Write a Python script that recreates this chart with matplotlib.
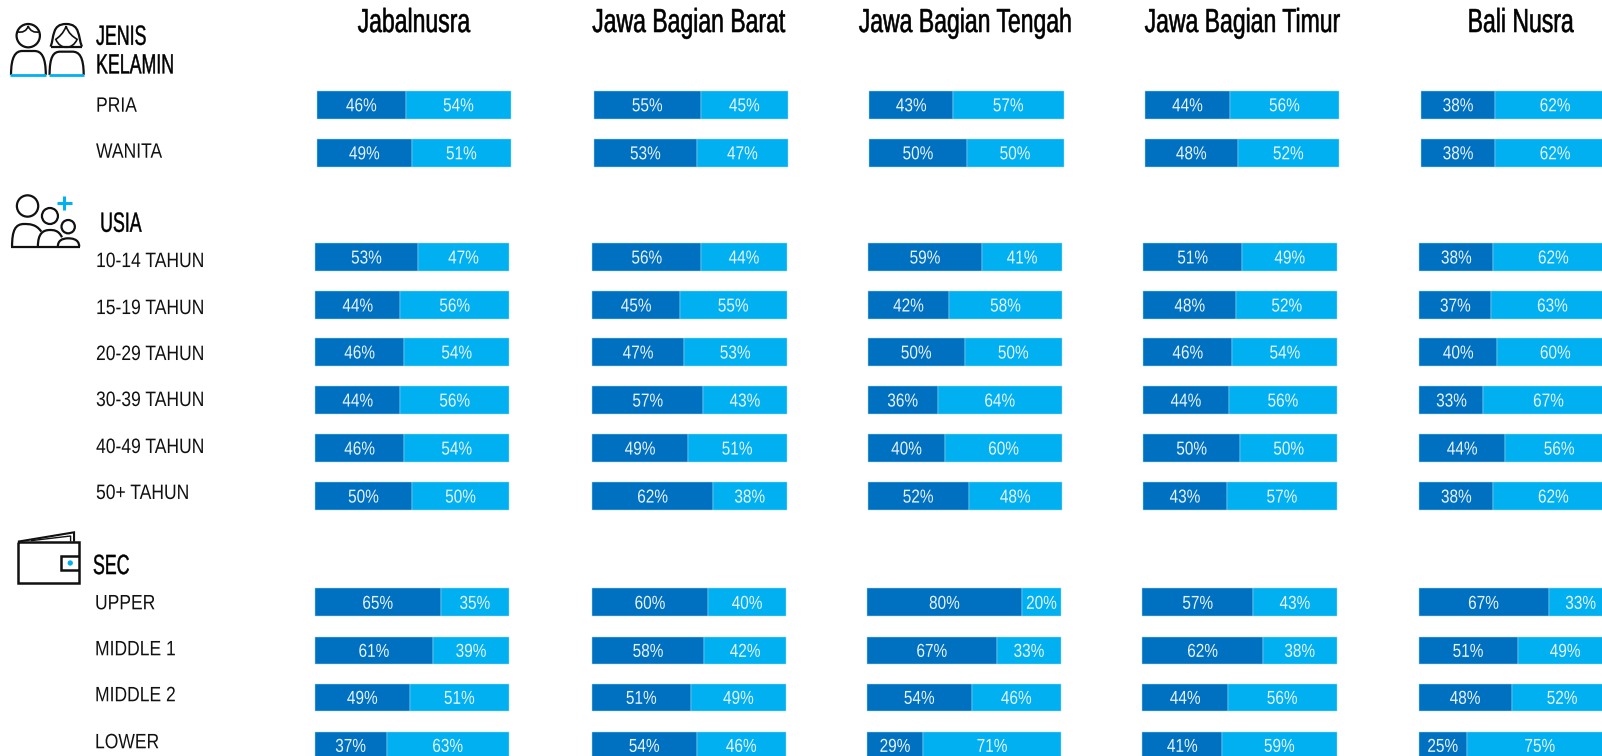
import matplotlib
matplotlib.use('Agg')
import matplotlib.pyplot as plt
from matplotlib.patches import Circle, PathPatch
from matplotlib.path import Path
from matplotlib.patheffects import AbstractPathEffect
from matplotlib.transforms import Affine2D

W, H = 1602, 756
S = W / 1568  # the positions below were measured on the 1568 wide picture
ZX, ZY = 2.904, 3.0  # icon points were measured on the zoomed crops

regions = ['Jabalnusra', 'Jawa Bagian Barat', 'Jawa Bagian Tengah', 'Jawa Bagian Timur', 'Bali Nusra']
row_labels = ['PRIA', 'WANITA', '10-14 TAHUN', '15-19 TAHUN', '20-29 TAHUN', '30-39 TAHUN',
              '40-49 TAHUN', '50+ TAHUN', 'UPPER', 'MIDDLE 1', 'MIDDLE 2', 'LOWER']

dark_jabalnusra = [46, 49, 53, 44, 46, 44, 46, 50, 65, 61, 49, 37]
light_jabalnusra = [54, 51, 47, 56, 54, 56, 54, 50, 35, 39, 51, 63]
dark_barat = [55, 53, 56, 45, 47, 57, 49, 62, 60, 58, 51, 54]
light_barat = [45, 47, 44, 55, 53, 43, 51, 38, 40, 42, 49, 46]
dark_tengah = [43, 50, 59, 42, 50, 36, 40, 52, 80, 67, 54, 29]
light_tengah = [57, 50, 41, 58, 50, 64, 60, 48, 20, 33, 46, 71]
dark_timur = [44, 48, 51, 48, 46, 44, 50, 43, 57, 62, 44, 41]
light_timur = [56, 52, 49, 52, 54, 56, 50, 57, 43, 38, 56, 59]
dark_bali = [38, 38, 38, 37, 40, 33, 44, 38, 67, 51, 48, 25]
light_bali = [62, 62, 62, 63, 60, 67, 56, 62, 33, 49, 52, 75]

dark = [dark_jabalnusra, dark_barat, dark_tengah, dark_timur, dark_bali]
light = [light_jabalnusra, light_barat, light_tengah, light_timur, light_bali]

# layout
row_top = [89, 136, 238, 285, 331, 378, 425, 472, 576, 623, 669, 716]
label_y = [104, 149, 256, 302, 347, 392, 438, 483, 591, 636, 681, 727]
label_x = [94, 94, 94, 94, 94, 94, 94, 94, 93, 93, 93, 93]
sections = [(0, 2, [310, 581.3, 851, 1120.4, 1391]),
            (2, 8, [308.3, 579.9, 849.3, 1118.9, 1389.3]),
            (8, 12, [308, 579.2, 848.4, 1118.2, 1388.4])]
title_x = [405, 674, 945, 1216, 1488]
BAR_W = 190
BAR_H = 27

SANS = ['Liberation Sans', 'DejaVu Sans']
DARK = '#0070C0'
LIGHT = '#00B0F0'
EDGE = '#9FD8F5'


class Squeeze(AbstractPathEffect):
    # no narrow font is installed, so the glyph outlines get squeezed sideways when drawn
    def __init__(self, fx, center=False, stroke=0):
        super().__init__()
        self.fx = fx
        self.center = center
        self.stroke = stroke

    def draw_path(self, renderer, gc, tpath, affine, rgbFace=None):
        cx = 0
        if self.center:
            box = tpath.get_extents()
            cx = (box.x0 + box.x1) / 2
        new = Affine2D().translate(-cx, 0).scale(self.fx, 1).translate(cx, 0) + affine
        gc0 = renderer.new_gc()
        gc0.copy_properties(gc)
        if self.stroke:
            gc0.set_linewidth(self.stroke)
            gc0.set_foreground(rgbFace)
        renderer.draw_path(gc0, tpath, new, rgbFace)
        gc0.restore()


fig = plt.figure(figsize=(W / 100, H / 100), dpi=100, facecolor='white')

# one axes per section and column, x runs over the 100% share
for first, last, lefts in sections:
    for c, left in enumerate(lefts):
        top = row_top[first] - 1
        bottom = row_top[last - 1] + BAR_H + 1
        ax = fig.add_axes([left * S / W, 1 - bottom * S / H, BAR_W * S / W, (bottom - top) * S / H])
        ax.set_xlim(0, 100)
        ax.set_ylim(bottom, top)
        ax.axis('off')
        for r in range(first, last):
            y = row_top[r] + BAR_H / 2
            d = dark[c][r]
            l = light[c][r]
            ax.barh(y, d, height=BAR_H, color=DARK, edgecolor=EDGE, linewidth=0.35, clip_on=False)
            ax.barh(y, l, left=d, height=BAR_H, color=LIGHT, edgecolor=EDGE, linewidth=0.35, clip_on=False)
            for pos, val in [(d / 2, d), (d + l / 2, l)]:
                ax.text(pos, y + 2, f'{val}%', color='#E6F3FB', ha='center', va='center', fontsize=13.5,
                        family=SANS, clip_on=False, path_effects=[Squeeze(0.82, center=True)])

# overlay in picture pixels for the text and the icons
ov = fig.add_axes([0, 0, 1, 1], facecolor='none')
ov.set_xlim(0, W)
ov.set_ylim(H, 0)
ov.axis('off')

for name, x in zip(regions, title_x):
    ov.text(x * S, 23 * S, name, ha='center', va='center', fontsize=24, color='black', family=SANS,
            path_effects=[Squeeze(0.69, center=True, stroke=0.4)])

for name, x, y in zip(row_labels, label_x, label_y):
    ov.text(x * S, y * S, name, ha='left', va='center', fontsize=15, color='#111111', family=SANS,
            path_effects=[Squeeze(0.84)])

for name, x, y in [('JENIS', 94, 37), ('KELAMIN', 94, 65), ('USIA', 98, 220), ('SEC', 91, 555)]:
    ov.text(x * S, y * S, name, ha='left', va='center', fontsize=20, color='black', family=SANS,
            path_effects=[Squeeze(0.64, stroke=0.3)])


def pts_of(points, y0):
    return [(x / ZX, (y + y0) / ZY) for x, y in points]


def line(points, color='#111111', lw=1.6, closed=False, y0=0):
    pts = pts_of(points, y0)
    if closed:
        pts = pts + [pts[0]]
    ov.add_patch(PathPatch(Path(pts), fill=False, edgecolor=color, linewidth=lw, capstyle='butt'))


def curve(points, color='#111111', lw=1.6, y0=0):
    # start point, then groups of three Bezier points
    pts = pts_of(points, y0)
    codes = [Path.MOVETO] + [Path.CURVE4] * (len(pts) - 1)
    ov.add_patch(PathPatch(Path(pts, codes), fill=False, edgecolor=color, linewidth=lw))


def circle(x, y, r, color='#111111', lw=1.6, fill=False, y0=0):
    ov.add_patch(Circle((x / ZX, (y + y0) / ZY), r / ZY, fill=fill, edgecolor=color,
                        facecolor=color if fill else 'none', linewidth=lw))


# man and woman
circle(82, 107, 35)
curve([(50, 95), (65, 100), (78, 92), (82, 78), (86, 92), (100, 100), (115, 95)], lw=1.2)
curve([(32, 225), (32, 170), (45, 153), (65, 153), (75, 153), (90, 153), (100, 153), (120, 153), (133, 170), (133, 225)])
curve([(147, 140), (158, 110), (150, 72), (192, 72), (234, 72), (226, 110), (238, 140)])
line([(147, 140), (238, 140)])
curve([(192, 78), (185, 100), (170, 112), (162, 118), (175, 150), (210, 150), (224, 118), (212, 110), (198, 100), (192, 78)], lw=1.2)
curve([(144, 225), (144, 170), (155, 155), (175, 155), (185, 155), (200, 155), (210, 155), (230, 155), (243, 170), (243, 225)])
line([(30, 225), (135, 225)], color=LIGHT, lw=2)
line([(142, 225), (244, 225)], color=LIGHT, lw=2)

# family with plus
circle(80, 618, 32)
circle(145, 648, 24)
circle(198, 680, 20)
line([(187, 588), (187, 630)], color=LIGHT, lw=2.2)
line([(166, 608), (208, 608)], color=LIGHT, lw=2.2)
curve([(35, 740), (35, 690), (45, 672), (70, 672), (85, 672), (105, 672), (120, 695)])
curve([(110, 740), (110, 700), (125, 690), (145, 690), (155, 690), (170, 690), (180, 712)])
curve([(168, 740), (168, 722), (180, 715), (198, 715), (205, 715), (230, 715), (230, 740)])
line([(33, 740), (232, 740)])

# wallet
WY = 500 * ZY
line([(52, 125), (230, 125), (230, 250), (52, 250)], closed=True, y0=WY, lw=1.8)
line([(52, 125), (215, 97), (215, 125)], y0=WY, lw=1.5)
line([(90, 122), (205, 108), (205, 125)], y0=WY, lw=1)
line([(230, 168), (176, 168), (176, 210), (230, 210)], y0=WY, lw=1.8)
circle(204, 189, 8, color=LIGHT, fill=True, lw=0, y0=WY)

fig.savefig('out.png', dpi=100, facecolor='white')
